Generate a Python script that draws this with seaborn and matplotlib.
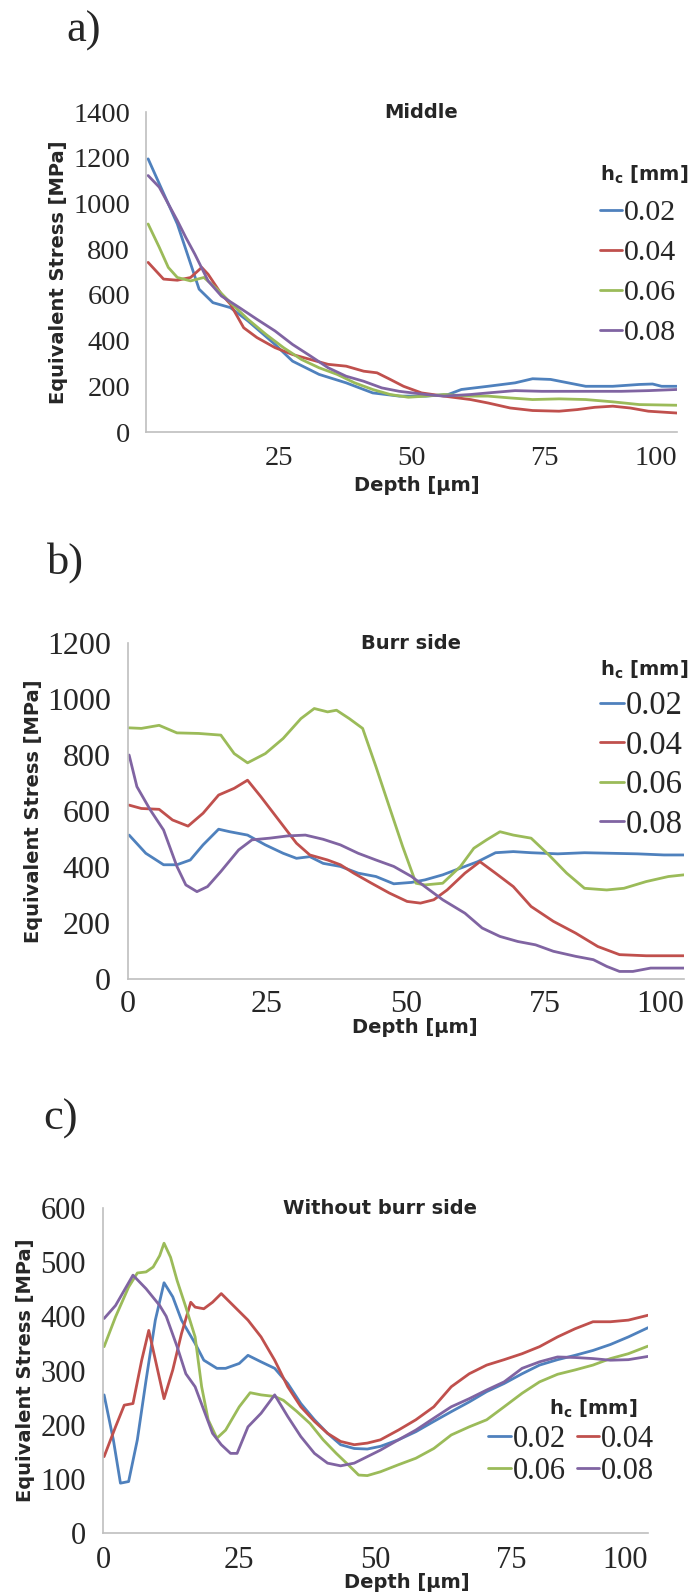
import matplotlib
matplotlib.use('Agg')
import matplotlib.pyplot as plt
import pandas as pd
import seaborn as sns
from matplotlib.font_manager import FontProperties

# h_c levels and Excel-like colours
hc_levels = ['0.02', '0.04', '0.06', '0.08']
hc_colors = ['#4F81BD', '#C0504D', '#9BBB59', '#8064A2']

# a) Middle  (depth in um, stress in MPa)
mid_x_002 = [0.4, 5.9, 10.0, 12.6, 15.9, 19.2, 24.3, 27.6, 32.6, 37.7, 42.7, 47.7, 52.7, 56.9, 59.4,
             64.4, 69.5, 72.8, 76.2, 79.5, 82.8, 87.9, 92.9, 95.4, 97.1, 100]
mid_y_002 = [1195, 910, 625, 566, 544, 486, 383, 310, 252, 215, 171, 157, 157, 164, 186,
             200, 215, 233, 230, 215, 200, 200, 208, 210, 200, 200]
mid_x_004 = [0.4, 3.3, 5.9, 8.4, 10.5, 11.7, 14.2, 15.9, 18.4, 20.9, 24.3, 27.6, 31.0, 34.3, 37.7, 41.0,
             43.5, 46.0, 48.5, 51.9, 56.1, 61.1, 64.4, 68.6, 72.8, 77.8, 81.2, 84.5, 87.9, 91.2, 94.6, 100]
mid_y_004 = [742, 669, 664, 676, 720, 690, 603, 559, 456, 413, 369, 339, 317, 296, 288, 266,
             259, 230, 200, 171, 157, 142, 127, 105, 94, 91, 98, 108, 113, 105, 91, 83]
mid_x_006 = [0.4, 2.5, 4.2, 5.9, 8.4, 10.9, 13.4, 15.9, 19.2, 22.6, 25.9, 29.3, 32.6, 36.0, 39.3,
             42.7, 46.0, 49.4, 52.7, 56.1, 61.1, 64.4, 68.6, 72.8, 77.8, 82.8, 87.9, 92.9, 100]
mid_y_006 = [910, 808, 720, 676, 661, 676, 625, 566, 493, 427, 369, 317, 281, 252, 215,
             186, 164, 152, 157, 164, 157, 157, 149, 142, 145, 142, 132, 120, 117]
mid_x_008 = [0.4, 2.5, 5.9, 7.5, 9.2, 11.7, 14.2, 17.6, 20.9, 24.3, 27.6, 31.0, 34.3, 37.7, 41.0,
             44.4, 47.7, 52.7, 56.1, 61.1, 64.4, 69.5, 74.5, 79.5, 84.5, 89.5, 94.6, 100]
mid_y_008 = [1122, 1071, 925, 851, 778, 661, 595, 544, 493, 442, 383, 332, 281, 244, 222,
             193, 178, 164, 157, 164, 171, 181, 178, 178, 178, 178, 181, 186]

# b) Burr side
burr_x_002 = [0.2, 3.2, 6.4, 8.8, 11.2, 13.5, 16.3, 18.3, 21.5, 24.7, 27.9, 30.3, 32.7, 35.1, 38.2, 41.4,
              44.6, 47.8, 51.0, 53.4, 56.6, 59.8, 62.9, 66.1, 69.3, 72.5, 77.3, 82.1, 86.9, 91.6, 96.4, 100]
burr_y_002 = [514, 449, 408, 408, 425, 479, 535, 526, 514, 479, 449, 431, 437, 413, 402, 378,
              366, 340, 345, 354, 372, 396, 419, 451, 455, 451, 447, 451, 449, 447, 443, 443]
burr_x_004 = [0.2, 2.4, 5.6, 8.0, 10.8, 13.5, 16.3, 19.1, 21.5, 23.9, 27.1, 30.3, 32.7, 35.9, 38.2, 40.6,
              43.8, 47.0, 50.2, 52.6, 55.0, 57.4, 60.6, 63.3, 66.1, 69.3, 72.5, 76.5, 80.5, 84.5, 88.4, 93.2, 100]
burr_y_004 = [621, 609, 606, 568, 546, 592, 657, 681, 710, 651, 568, 485, 443, 425, 408, 378,
              342, 307, 277, 271, 283, 318, 378, 419, 378, 330, 259, 206, 164, 116, 87, 83, 83]
burr_x_006 = [0.2, 2.4, 5.6, 8.8, 12.7, 16.7, 19.1, 21.5, 24.7, 27.9, 31.1, 33.5, 35.9, 37.5, 39.8, 42.2,
              44.6, 47.0, 49.4, 51.8, 53.4, 56.6, 59.8, 62.2, 64.5, 66.9, 69.3, 72.5, 75.7, 78.9, 82.1,
              86.1, 89.2, 93.2, 97.2, 100]
burr_y_006 = [897, 895, 906, 879, 877, 871, 805, 772, 805, 859, 930, 966, 954, 960, 930, 895,
              758, 615, 473, 342, 336, 342, 402, 467, 497, 526, 514, 503, 443, 378, 324,
              318, 324, 348, 366, 372]
burr_x_008 = [0.2, 1.6, 4.0, 6.4, 8.8, 10.4, 12.4, 14.3, 16.7, 19.9, 22.3, 25.5, 28.7, 31.9, 35.1, 38.2,
              41.4, 44.6, 47.8, 51.0, 53.4, 56.6, 60.6, 63.7, 66.9, 70.1, 73.3, 76.5, 80.5, 83.7, 86.1,
              88.4, 90.8, 94.0, 100]
burr_y_008 = [800, 687, 604, 532, 402, 336, 312, 330, 384, 461, 497, 503, 511, 514, 499, 479,
              449, 425, 402, 366, 330, 283, 235, 182, 152, 134, 122, 99, 81, 69, 45,
              27, 27, 39, 39]

# c) Without burr side
wo_x_002 = [0.2, 1.9, 3.2, 4.7, 6.3, 7.9, 9.6, 11.2, 12.8, 14.4, 16.9, 18.5, 20.9, 22.5, 25.0, 26.6,
            29.0, 31.5, 33.9, 36.3, 38.8, 41.2, 43.6, 46.1, 48.5, 50.9, 54.2, 57.4, 60.7, 63.9, 67.2,
            70.4, 73.6, 76.9, 80.1, 83.4, 86.6, 89.9, 93.1, 96.4, 100]
wo_y_002 = [255, 172, 92, 95, 172, 282, 393, 462, 436, 393, 350, 319, 304, 304, 313, 328,
            316, 304, 276, 239, 209, 184, 163, 156, 155, 160, 172, 187, 206, 224, 242,
            261, 276, 294, 310, 320, 328, 337, 348, 362, 379]
wo_x_004 = [0.2, 2.3, 3.9, 5.5, 7.1, 8.4, 11.2, 12.8, 14.4, 16.1, 16.9, 18.5, 20.1, 21.7, 24.2, 26.6,
            29.0, 31.5, 33.9, 36.3, 38.8, 41.2, 43.6, 46.1, 48.5, 50.9, 54.2, 57.4, 60.7, 63.9, 67.2,
            70.4, 73.6, 76.9, 80.1, 83.4, 86.6, 89.9, 93.1, 96.4, 100]
wo_y_004 = [141, 196, 236, 239, 319, 374, 248, 301, 368, 426, 417, 414, 426, 442, 417, 393,
            362, 319, 270, 233, 206, 184, 169, 163, 166, 172, 190, 209, 233, 270, 294,
            310, 320, 331, 344, 362, 377, 390, 390, 393, 402]
wo_x_006 = [0.2, 2.3, 4.7, 6.3, 7.9, 9.2, 10.4, 11.2, 12.4, 13.6, 15.2, 16.9, 18.1, 19.3, 20.9, 22.5,
            25.0, 27.0, 29.0, 31.5, 33.1, 35.5, 38.0, 40.4, 42.8, 45.3, 46.9, 48.5, 50.9, 54.2, 57.4,
            60.7, 63.9, 67.2, 70.4, 73.6, 76.9, 80.1, 83.4, 86.6, 89.9, 93.1, 96.4, 100]
wo_y_006 = [344, 399, 454, 480, 482, 491, 512, 535, 509, 466, 417, 362, 270, 209, 175, 190,
            233, 259, 255, 252, 245, 225, 202, 172, 147, 123, 107, 106, 113, 126, 138,
            156, 181, 196, 209, 233, 258, 279, 293, 301, 310, 322, 331, 345]
wo_x_008 = [0.2, 2.3, 3.9, 5.5, 7.9, 10.4, 11.6, 13.6, 15.2, 16.9, 18.5, 20.1, 21.7, 23.4, 24.6, 26.6,
            29.0, 31.5, 33.9, 36.3, 38.8, 41.2, 43.6, 46.1, 48.5, 50.9, 54.2, 57.4, 60.7, 63.9, 67.2,
            70.4, 73.6, 76.9, 80.1, 83.4, 86.6, 89.9, 93.1, 96.4, 100]
wo_y_008 = [396, 420, 448, 476, 451, 420, 400, 344, 294, 270, 227, 184, 163, 147, 147, 196,
            221, 255, 215, 178, 147, 129, 124, 129, 141, 153, 172, 190, 212, 233, 248,
            264, 279, 304, 316, 325, 324, 322, 319, 320, 326]

SERIF = 'Liberation Serif'
SANS = 'DejaVu Sans'
AXIS_GREY = '#BFBFBF'
LEG_TITLE = r'$\mathbf{h_c}$ [mm]'


def make_frame(xs, ys):
    parts = []
    for hc, x, y in zip(hc_levels, xs, ys):
        parts.append(pd.DataFrame({'depth': x, 'stress': y, 'hc': hc}))
    return pd.concat(parts, ignore_index=True)


df_mid = make_frame([mid_x_002, mid_x_004, mid_x_006, mid_x_008],
                    [mid_y_002, mid_y_004, mid_y_006, mid_y_008])
df_burr = make_frame([burr_x_002, burr_x_004, burr_x_006, burr_x_008],
                     [burr_y_002, burr_y_004, burr_y_006, burr_y_008])
df_wo = make_frame([wo_x_002, wo_x_004, wo_x_006, wo_x_008],
                   [wo_y_002, wo_y_004, wo_y_006, wo_y_008])

sns.set_theme(style='white')
plt.rcParams['font.family'] = [SANS]
plt.rcParams['mathtext.fontset'] = 'dejavusans'

W, H = 694, 1595
fig = plt.figure(figsize=(W / 100, H / 100), dpi=100)


def px_axes(left, top, right, bottom):
    return fig.add_axes([left / W, 1 - bottom / H, (right - left) / W, (bottom - top) / H])


def draw_panel(ax, df, title, title_x, yticks, xticks, tick_fs, ytick_pad, xtick_pad,
               ylab_x, xlab_xy, leg_xy, leg_fs, ncol, label_spacing, leg_title_xy=None):
    sns.lineplot(data=df, x='depth', y='stress', hue='hc', hue_order=hc_levels,
                 palette=dict(zip(hc_levels, hc_colors)), sort=False, estimator=None,
                 linewidth=2.0, legend=False, ax=ax)
    ax.set_xlim(0, 100)
    ax.set_ylim(0, yticks[-1])
    ax.set_yticks(yticks, [str(v) for v in yticks], fontfamily=SERIF, fontsize=tick_fs)
    ax.set_xticks(xticks, [str(v) for v in xticks], fontfamily=SERIF, fontsize=tick_fs)
    ax.get_xticklabels()[-1].set_ha('right')
    ax.tick_params(axis='y', length=4, width=1, color=AXIS_GREY, pad=ytick_pad)
    ax.tick_params(axis='x', length=4, width=1, color=AXIS_GREY, pad=xtick_pad)
    for side in ['top', 'right']:
        ax.spines[side].set_visible(False)
    for side in ['left', 'bottom']:
        ax.spines[side].set_color(AXIS_GREY)
        ax.spines[side].set_linewidth(1.2)
    ax.patch.set_alpha(0)

    ax.text(title_x, 1.0, title, transform=ax.transAxes, ha='center', va='center',
            fontsize=14, fontweight='bold', family=SANS)

    ax.set_ylabel('Equivalent Stress [MPa]', fontsize=14, fontweight='bold', family=SANS)
    ax.yaxis.set_label_coords(ylab_x, 0.5)
    ax.yaxis.label.set_va('center')
    ax.set_xlabel('Depth [µm]', fontsize=14, fontweight='bold', family=SANS)
    ax.xaxis.set_label_coords(*xlab_xy)
    ax.xaxis.label.set_va('center')

    lines = ax.get_lines()[:4]
    order = [0, 1, 2, 3] if ncol == 1 else [0, 2, 1, 3]
    title_font = FontProperties(family=SANS, weight='bold', size=14)
    ax.legend([lines[i] for i in order], [hc_levels[i] for i in order],
              title=LEG_TITLE if leg_title_xy is None else None,
              loc='upper left', bbox_to_anchor=(leg_xy[0] / W, 1 - leg_xy[1] / H),
              bbox_transform=fig.transFigure, frameon=False, ncols=ncol,
              prop=FontProperties(family=SERIF, size=leg_fs),
              title_fontproperties=title_font,
              handlelength=0.75, handletextpad=0.05, labelspacing=label_spacing,
              columnspacing=0.36, borderpad=0, borderaxespad=0, alignment='left')
    if leg_title_xy is not None:
        fig.text(leg_title_xy[0] / W, 1 - leg_title_xy[1] / H, LEG_TITLE,
                 fontproperties=title_font, ha='center', va='center')


# a) Middle
ax_a = px_axes(146, 112, 677, 432)
draw_panel(ax_a, df_mid, 'Middle', 0.518, list(range(0, 1401, 200)), [25, 50, 75, 100],
           20.5, 7.5, 6, -0.165, (0.51, -0.166), (600, 164), 21.5, 1, 0.44)

# b) Burr side
ax_b = px_axes(128, 643, 684, 979)
draw_panel(ax_b, df_burr, 'Burr side', 0.509, list(range(0, 1201, 200)), [0, 25, 50, 75, 100],
           23, 8.5, 4, -0.17, (0.516, -0.145), (600, 659), 23.5, 1, 0.28)

# c) Without burr side
ax_c = px_axes(103, 1208, 648, 1533)
draw_panel(ax_c, df_wo, 'Without burr side', 0.508, list(range(0, 601, 100)), [0, 25, 50, 75, 100],
           22, 8.5, 5, -0.143, (0.558, -0.151), (488, 1425), 22, 2, 0.1,
           leg_title_xy=(593, 1409))

for label, (x, y) in zip(['a)', 'b)', 'c)'], [(66, 42), (47, 574), (43, 1130)]):
    fig.text(x / W, 1 - y / H, label, family=SERIF, fontsize=32, ha='left', va='baseline')

fig.savefig('out.png', dpi=100)
